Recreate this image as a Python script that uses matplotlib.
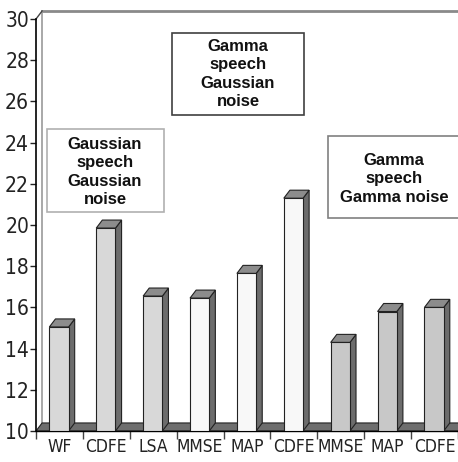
import matplotlib.pyplot as plt
from matplotlib.patches import Polygon, Rectangle

plt.rcParams['font.family'] = ['DejaVu Sans']
plt.rcParams['font.stretch'] = 'condensed'

labels = ['WF', 'CDFE', 'LSA', 'MMSE', 'MAP', 'CDFE', 'MMSE', 'MAP', 'CDFE']
values = [15.05, 19.85, 16.55, 16.45, 17.65, 21.3, 14.3, 15.8, 16.0]
face_colors = ['#d8d8d8', '#d8d8d8', '#d8d8d8', '#f8f8f8', '#f8f8f8', '#f8f8f8',
               '#c8c8c8', '#c8c8c8', '#c8c8c8']
box_texts = ['Gaussian\nspeech\nGaussian\nnoise',
             'Gamma\nspeech\nGaussian\nnoise',
             'Gamma\nspeech\nGamma noise']

W, H = 458, 462
fig = plt.figure(figsize=(W / 100, H / 100), dpi=100)
ax = fig.add_axes([36 / W, (H - 431) / H, 422 / W, 412 / H])
ax.set_xlim(-0.5, 8.5)
ax.set_ylim(10, 30)

dx, dy = 0.13, 0.39   # 3d depth in data units
bw = 0.41
ymin = 10

# back wall edges
ax.plot([-0.5 + dx, 8.6], [30 + dy, 30 + dy], color='#8a8a8a', lw=2, clip_on=False, zorder=1)
ax.plot([-0.5 + dx, -0.5 + dx], [ymin + dy, 30 + dy], color='#9a9a9a', lw=1.2, clip_on=False, zorder=1)
ax.plot([-0.5, -0.5 + dx], [30, 30 + dy], color='#444444', lw=1, clip_on=False, zorder=1)

# floor
ax.add_patch(Polygon([(-0.5, ymin), (8.6, ymin), (8.6 + dx, ymin + dy), (-0.5 + dx, ymin + dy)],
                     closed=True, facecolor='#6e6e6e', edgecolor='#222222', lw=0.8,
                     clip_on=False, zorder=2))

for i, (v, c) in enumerate(zip(values, face_colors)):
    x0 = i - 0.01 - bw / 2
    x1 = x0 + bw
    # side face
    ax.add_patch(Polygon([(x1, ymin), (x1 + dx, ymin + dy), (x1 + dx, v + dy), (x1, v)],
                         closed=True, facecolor='#6c6c6c', edgecolor='#222222', lw=0.8, zorder=3))
    # top face
    ax.add_patch(Polygon([(x0, v), (x1, v), (x1 + dx, v + dy), (x0 + dx, v + dy)],
                         closed=True, facecolor='#8c8c8c', edgecolor='#222222', lw=0.8, zorder=3))
    # front face
    ax.add_patch(Rectangle((x0, ymin), bw, v - ymin, facecolor=c, edgecolor='#222222',
                           lw=0.8, zorder=4))

for s in ['top', 'right']:
    ax.spines[s].set_visible(False)
ax.spines['left'].set_linewidth(1.2)
ax.spines['bottom'].set_linewidth(1.0)
ax.spines['left'].set_zorder(5)

ax.set_yticks(range(10, 31, 2))
ax.tick_params(axis='y', length=4, width=1, pad=1, labelsize=15, colors='#222222')
ax.set_xticks(range(len(labels)))
ax.set_xticklabels(labels)
ax.set_xticks([i - 0.5 for i in range(len(labels) + 1)], minor=True)
ax.tick_params(axis='x', which='major', length=0, pad=5, labelsize=12.5, colors='#222222')
ax.tick_params(axis='x', which='minor', length=6, width=1, color='#444444')


def fx(px):
    return px / W


def fy(py):
    return 1 - py / H


boxes = [(47, 129, 164, 212, '#b0b0b0'), (172, 33, 304, 115, '#404040'), (328, 136, 462, 218, '#808080')]
centers = [(105, 172), (238, 74), (394, 179)]
for (l, t, r, b, ec), (cx, cy), txt in zip(boxes, centers, box_texts):
    fig.add_artist(Rectangle((fx(l), fy(b)), fx(r) - fx(l), fy(t) - fy(b),
                             transform=fig.transFigure, facecolor='white', edgecolor=ec, lw=1.2, zorder=6))
    fig.text(fx(cx), fy(cy), txt, ha='center', va='center', fontsize=12, fontweight='bold',
             family=['Liberation Sans', 'DejaVu Sans'], fontstretch='normal',
             color='#111111', linespacing=1.3, zorder=7)

fig.savefig('out.png', dpi=100)
